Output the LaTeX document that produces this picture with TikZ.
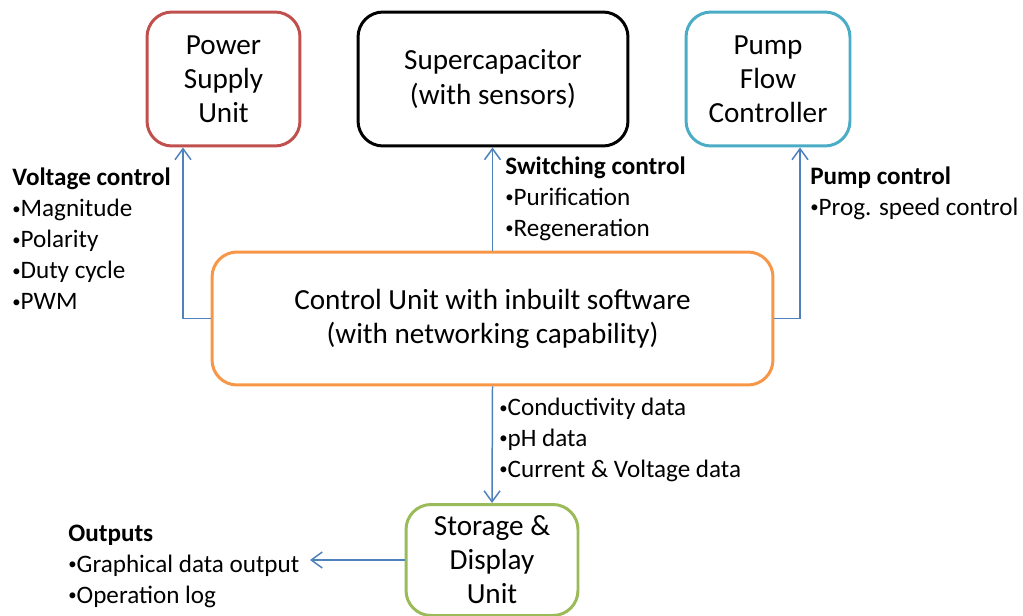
\documentclass[tikz,border=0pt]{standalone}
\usepackage{fontspec}
\setmainfont{Carlito}
\usetikzlibrary{arrows.meta,calc}
\definecolor{cred}{HTML}{C0504D}
\definecolor{ccyan}{HTML}{4BACC6}
\definecolor{corange}{HTML}{F79646}
\definecolor{cgreen}{HTML}{9BBB59}
\definecolor{cblue}{HTML}{4F81BD}
\newcommand\bul{{\raisebox{0.22ex}{\fontsize{9.5}{0}\selectfont •}}}
\begin{document}
\begin{tikzpicture}[x=0.02cm,y=-0.02cm,
  box/.style={draw,line width=1.7pt,rounded corners=0.5cm,inner sep=0pt,align=center,
    font=\fontsize{16.6}{19.4}\selectfont},
  lbl/.style={anchor=west,inner sep=0pt,align=left,font=\fontsize{14.3}{17.6}\selectfont},
  arr/.style={draw=cblue,line width=0.85pt,-{Straight Barb[length=2.2mm,width=3.2mm]}}]
\useasboundingbox (0,0) rectangle (1023,615);
\node[box,draw=cred,minimum width=3.06cm,minimum height=2.68cm] (psu) at (223.5,79) {Power\\Supply\\Unit};
\node[box,draw=black,minimum width=5.4cm,minimum height=2.68cm] (sup) at (493,79) {Supercapacitor\\(with sensors)};
\node[box,draw=ccyan,minimum width=3.28cm,minimum height=2.68cm] (pump) at (768,79) {Pump\\Flow\\Controller};
\node[box,draw=corange,minimum width=11.22cm,minimum height=2.66cm] (ctrl) at (492.5,318.5) {Control Unit with inbuilt software\\(with networking capability)};
\node[box,draw=cgreen,minimum width=3.44cm,minimum height=2.22cm] (stor) at (492,560) {Storage \&\\Display\\Unit};
\coordinate (outend) at (310,560);
\draw[arr] (ctrl.west) -| ($(psu.south)+(-40.5,0)$);
\draw[arr] (ctrl.north) -- (ctrl.north |- sup.south);
\draw[arr] (ctrl.east) -| ($(pump.south)+(32,0)$);
\draw[arr] (ctrl.south) -- (stor.north);
\draw[arr] (stor.west) -- (outend);
\node[lbl] (volt) at (12,239) {\textbf{Voltage control}\\\bul Magnitude\\\bul Polarity\\\bul Duty cycle\\\bul PWM};
\node[lbl] (sw) at (505,198.5) {\textbf{Switching control}\\\bul Purification\\\bul Regeneration};
\node[lbl] (pc) at (810,193) {\textbf{Pump control}\\\bul Prog. speed control};
\node[lbl] (data) at (499,440) {\bul Conductivity data\\\bul pH data\\\bul Current \& Voltage data};
\node[lbl] (outs) at (68,566) {\textbf{Outputs}\\\bul Graphical data output\\\bul Operation log};
\end{tikzpicture}
\end{document}
